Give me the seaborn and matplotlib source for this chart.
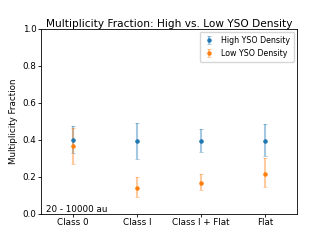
import matplotlib
matplotlib.use("Agg")
import matplotlib.pyplot as plt
import seaborn as sns
import numpy as np

# values
classes = ["Class 0", "Class I", "Class I + Flat", "Flat"]

high_mf = [0.397, 0.391, 0.393, 0.395]
high_upper = [0.475, 0.492, 0.459, 0.486]
high_lower = [0.326, 0.297, 0.332, 0.314]

low_mf = [0.364, 0.138, 0.168, 0.216]
low_upper = [0.465, 0.197, 0.214, 0.300]
low_lower = [0.271, 0.091, 0.129, 0.145]

blue = "#1f77b4"
orange = "#ff7f0e"

sns.set_style("ticks", {"text.color": "black", "axes.labelcolor": "black",
                        "xtick.color": "black", "ytick.color": "black"})
plt.rcParams["font.family"] = ["DejaVu Sans"]

fig, ax = plt.subplots(figsize=(3.3, 2.4), dpi=100)


def draw(vals, upper, lower, color, label):
    vals = np.array(vals)
    yerr = [vals - np.array(lower), np.array(upper) - vals]
    sns.scatterplot(x=classes, y=vals, color=color, s=6, linewidth=0, ax=ax, zorder=3)
    eb = ax.errorbar(classes, vals, yerr=yerr, fmt="o", ms=2.2, color=color,
                     elinewidth=1.5, capsize=1.3, capthick=0.7, label=label)
    for c in eb[2]:
        c.set_alpha(0.4)
    for c in eb[1]:
        c.set_alpha(0.4)


draw(high_mf, high_upper, high_lower, blue, "High YSO Density")
draw(low_mf, low_upper, low_lower, orange, "Low YSO Density")

ax.set_xlim(-0.5, 3.5)
ax.set_ylim(0, 1.0)
ax.set_yticks([0, 0.2, 0.4, 0.6, 0.8, 1.0])
ax.set_ylabel("Multiplicity Fraction", fontsize=6.3, labelpad=3)
ax.set_title("Multiplicity Fraction: High vs. Low YSO Density", fontsize=7.6, pad=1.5)
ax.tick_params(labelsize=6.3, length=2, width=0.6, pad=1.5)
for s in ax.spines.values():
    s.set_linewidth(0.6)
    s.set_color("black")
ax.text(0.02, 0.0, "20 - 10000 au", transform=ax.transAxes, fontsize=6.3,
        ha="left", va="bottom")
ax.legend(loc="upper right", fontsize=5.7, frameon=True, handlelength=1.4,
          borderpad=0.5, labelspacing=0.55, borderaxespad=0.35)

fig.subplots_adjust(left=0.125, right=0.9, top=0.88, bottom=0.11)
fig.savefig("out.png", dpi=100)
